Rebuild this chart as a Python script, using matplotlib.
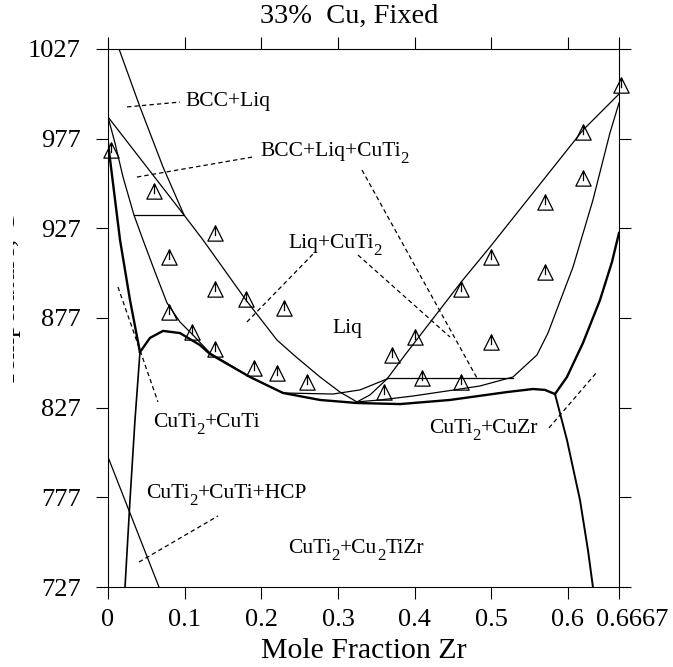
import matplotlib
matplotlib.use("Agg")
import matplotlib.pyplot as plt
from matplotlib.path import Path
from matplotlib.transforms import Bbox, ScaledTranslation

plt.rcParams["font.family"] = ["Liberation Serif", "DejaVu Serif"]

# experimental points (mole fraction Zr, temperature C)
pts_x = [0.004, 0.06, 0.14, 0.08, 0.14, 0.18, 0.08, 0.23, 0.11, 0.14, 0.19, 0.22,
         0.26, 0.36, 0.37, 0.40, 0.41, 0.46, 0.46, 0.50, 0.50, 0.57, 0.57, 0.62,
         0.62, 0.6693]
pts_t = [970.7, 947.8, 924.4, 911.0, 893.2, 887.6, 880.3, 882.6, 869.2, 859.7, 849.1, 846.3,
         841.3, 835.7, 856.4, 866.4, 843.5, 841.3, 893.2, 863.6, 911.0, 941.7, 902.7, 980.7,
         955.1, 1006.9]

# phase boundaries
bcc_liq_x = [0.0144, 0.0417, 0.0718, 0.0992]
bcc_liq_t = [1027, 994.7, 961.2, 934.4]

liq_left_x = [0, 0.0992, 0.124, 0.180, 0.2205, 0.244, 0.2766, 0.3027, 0.3249]
liq_left_t = [989.1, 934.4, 920.5, 887.0, 864.7, 855.8, 844.1, 835.7, 830.2]

tie_bcc_x = [0.0339, 0.0992]
tie_bcc_t = [934.4, 934.4]

cuti2_x = [0, 0.0091, 0.0196, 0.0339, 0.0457, 0.0613, 0.077, 0.0939, 0.1109, 0.1331,
           0.1853, 0.2283, 0.2935, 0.3288, 0.364]
cuti2_t = [989.1, 974.6, 955.6, 934.4, 920.5, 902.7, 885.4, 874.8, 867.5, 857.5,
           844.1, 835.2, 834.6, 836.9, 843.0]

left_thick_x = [0, 0.0157, 0.0287, 0.0417]
left_thick_t = [974.6, 920.5, 887.0, 858.0]

cuti_x = [0.0417, 0.0352, 0.0287, 0.0222]
cuti_t = [858.0, 820.1, 775.5, 727]

solidus_x = [0.0417, 0.0548, 0.0718, 0.0939, 0.12, 0.1331, 0.1853, 0.2283, 0.2766,
             0.3249, 0.381, 0.4462, 0.5205, 0.5545, 0.5701, 0.5832]
solidus_t = [858.0, 865.9, 869.8, 868.6, 861.9, 856.9, 844.1, 835.2, 831.3,
             829.6, 829.0, 831.3, 835.7, 837.4, 836.9, 834.6]

mid_x = [0.3249, 0.3549, 0.3979, 0.4423, 0.4853, 0.5284, 0.5597, 0.574, 0.6067,
         0.6327, 0.6549, 0.6667]
mid_t = [830.2, 831.3, 833.5, 836.3, 839.1, 844.1, 856.4, 868.6, 905.4,
         942.8, 980.2, 996.9]

liq_right_x = [0.3249, 0.3418, 0.364, 0.3875, 0.4618, 0.4984, 0.6197, 0.6667]
liq_right_t = [830.2, 834.1, 843.0, 856.4, 897.6, 916.6, 981.8, 1001.9]

tie_right_x = [0.364, 0.5284]
tie_right_t = [843.5, 843.5]

cuzr_up_x = [0.5832, 0.5988, 0.6197, 0.6419, 0.6575, 0.6667]
cuzr_up_t = [834.6, 844.1, 863.1, 887.0, 908.2, 924.4]

cuzr_down_x = [0.5832, 0.5988, 0.6158, 0.6262, 0.6327]
cuzr_down_t = [834.6, 809.0, 775.5, 747.6, 727]

hcp_x = [0, 0.0665]
hcp_t = [799.5, 727]

# label pointers
leaders = [
    ([0.0248, 0.0939], [994.7, 997.4]),
    ([0.0378, 0.1892], [955.6, 966.8]),
    ([0.1813, 0.2701], [874.8, 913.8]),
    ([0.3314, 0.4814], [959.5, 843.5]),
    ([0.3262, 0.4462], [912.1, 866.4]),
    ([0.013, 0.0652], [894.3, 830.2]),
    ([0.0404, 0.1435], [740.9, 766.6]),
    ([0.5753, 0.638], [815.7, 846.9]),
]

# region labels, "_" marks a subscript
labels = ["BCC+Liq", "BCC+Liq+CuTi_2", "Liq+CuTi_2", "Liq", "CuTi_2+CuTi",
          "CuTi_2+CuTi+HCP", "CuTi_2+Cu_2TiZr", "CuTi_2+CuZr"]
label_x = [0.1005, 0.1983, 0.2348, 0.2922, 0.0587, 0.0496, 0.2348, 0.4188]
label_t = [995.2, 967.3, 916.0, 868.6, 816.2, 776.6, 746.0, 812.9]

xticks = [0, 0.1, 0.2, 0.3, 0.4, 0.5, 0.6, 0.6667]
xticklabels = ["0", "0.1", "0.2", "0.3", "0.4", "0.5", "0.6", "0.6667"]
yticks = [727, 777, 827, 877, 927, 977, 1027]

fig = plt.figure(figsize=(6.73, 6.67), dpi=100)
ax = fig.add_axes([108 / 673, 1 - 587 / 667, 511 / 673, 538 / 667])
ax.set_xlim(0, 0.6667)
ax.set_ylim(727, 1027)
renderer = fig.canvas.get_renderer()

thin = dict(color="black", lw=0.9)
thick = dict(color="black", lw=1.7)

ax.plot(bcc_liq_x, bcc_liq_t, **thin)
ax.plot(liq_left_x, liq_left_t, **thin)
ax.plot(tie_bcc_x, tie_bcc_t, **thin)
ax.plot(cuti2_x, cuti2_t, **thin)
ax.plot(left_thick_x, left_thick_t, **thick)
ax.plot(cuti_x, cuti_t, color="black", lw=1.2)
ax.plot(solidus_x, solidus_t, **thick)
ax.plot(mid_x, mid_t, **thin)
ax.plot(liq_right_x, liq_right_t, **thin)
ax.plot(tie_right_x, tie_right_t, **thin)
ax.plot(cuzr_up_x, cuzr_up_t, **thick)
ax.plot(cuzr_down_x, cuzr_down_t, color="black", lw=1.4)
ax.plot(hcp_x, hcp_t, **thin)

for lx, lt in leaders:
    ax.plot(lx, lt, color="black", lw=0.9, ls=(0, (3.5, 2.5)))

# triangle with a tick inside
verts = [(0, 1), (-1, -1), (1, -1), (0, 1), (0, 1), (0, -0.35)]
codes = [Path.MOVETO, Path.LINETO, Path.LINETO, Path.CLOSEPOLY, Path.MOVETO, Path.LINETO]
tri = Path(verts, codes)
ax.plot(pts_x, pts_t, ls="none", marker=tri, markersize=11, markerfacecolor="none",
        markeredgecolor="black", markeredgewidth=0.9, clip_on=False)

ax.set_xlim(0, 0.6667)
ax.set_ylim(727, 1027)


def chem_label(x, y, s, fs=15.5):
    # write text piece by piece so subscripts can be bigger/lower than mathtext
    parts = []
    buf = ""
    i = 0
    while i < len(s):
        if s[i] == "_":
            if buf:
                parts.append((buf, False))
                buf = ""
            parts.append((s[i + 1], True))
            i += 2
        else:
            buf += s[i]
            i += 1
    if buf:
        parts.append((buf, False))
    off = 0.0
    for txt, sub in parts:
        size = fs * 0.78 if sub else fs
        dy = -0.33 * fs if sub else 0
        t = ax.annotate(txt, (x, y), xytext=(off, dy), textcoords="offset points",
                        fontsize=size, ha="left", va="baseline", annotation_clip=False)
        w = t.get_window_extent(renderer).width * 72 / fig.dpi
        off += w


for s, lx, lt in zip(labels, label_x, label_t):
    chem_label(lx, lt, s)

ax.set_xticks(xticks)
ax.set_xticklabels(xticklabels)
ax.set_yticks(yticks)
ax.tick_params(direction="out", length=8.6, width=0.8, labelsize=19, top=True, right=True,
               labeltop=False, labelright=False)
ax.tick_params(axis="y", pad=11)
ax.tick_params(axis="x", pad=7)
for sp in ax.spines.values():
    sp.set_linewidth(0.8)

# last tick label sits a bit to the right of its tick
last = ax.get_xticklabels()[-1]
last.set_transform(last.get_transform() + ScaledTranslation(13 / 100, 0, fig.dpi_scale_trans))

ax.set_xlabel("Mole Fraction Zr", fontsize=21.5, labelpad=5)
fig.text(349 / 673, 1 - 16 / 667, "33%  Cu, Fixed", fontsize=20.5, ha="center", va="center")

yl = fig.text(15 / 673, 1 - 300 / 667, "Temperature, C", fontsize=20, rotation=90,
              rotation_mode="anchor", ha="center", va="baseline")
yl.set_clip_box(Bbox.from_extents(12.5, 0, 22, 667))
yl.set_clip_on(True)

fig.savefig("out.png", dpi=100)
